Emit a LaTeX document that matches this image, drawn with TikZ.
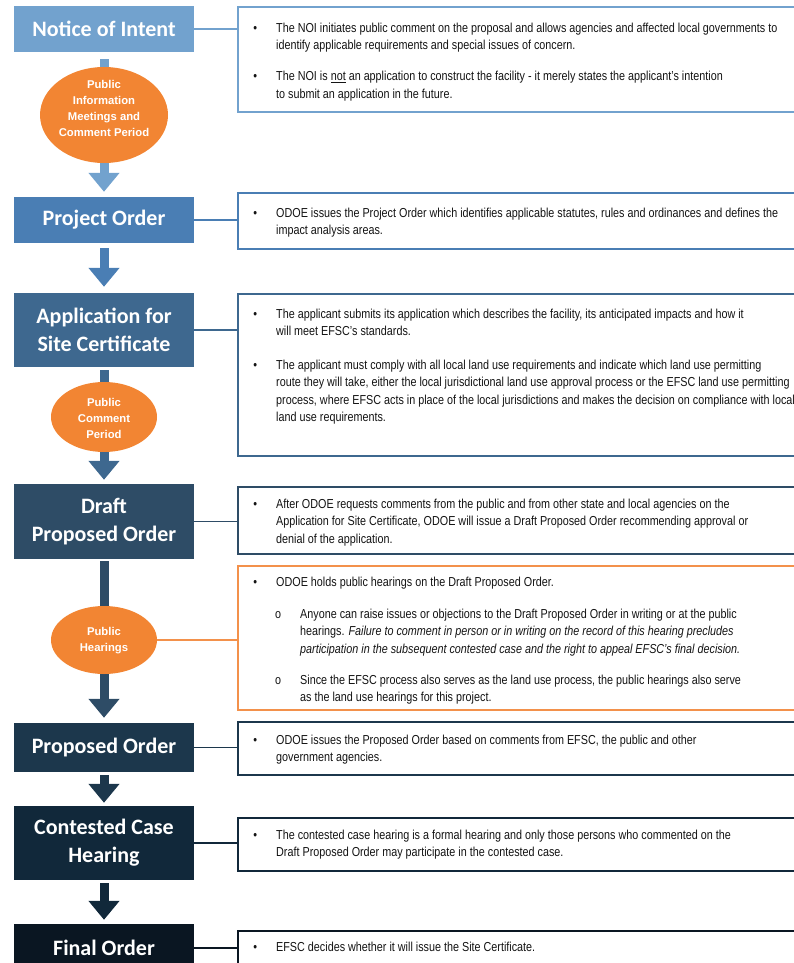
\documentclass[tikz,border=0pt]{standalone}
\usepackage{fontspec}
\newfontfamily\bodyfont[FakeStretch=0.83]{Liberation Sans}
\newfontfamily\titlefont{Carlito}
\newfontfamily\elfont{Liberation Sans}
\usetikzlibrary{shapes.geometric,arrows.meta,backgrounds}
\definecolor{cA}{RGB}{114,162,206}
\definecolor{cB}{RGB}{74,126,180}
\definecolor{cC}{RGB}{62,104,143}
\definecolor{cD}{RGB}{46,76,102}
\definecolor{cE}{RGB}{28,55,76}
\definecolor{cF}{RGB}{17,40,58}
\definecolor{cG}{RGB}{10,22,34}
\definecolor{orng}{RGB}{242,133,51}
\definecolor{orngline}{RGB}{243,145,75}
\definecolor{txt}{RGB}{20,20,20}
\newcommand\mybul{\llap{\textbullet\hspace{19pt}}}
\newcommand\mysubbul{\hspace*{24pt}\llap{o\hspace{19pt}}}
\newcommand\mysubind{\hspace*{24pt}}
\newcommand\mystrut{\rule{0pt}{10pt}}
\tikzset{
  stage/.style={rectangle, minimum width=180pt, text=white, align=center, inner sep=0pt,
    font=\titlefont\bfseries\fontsize{22}{28}\selectfont},
  ell/.style={ellipse, fill=orng, inner sep=0pt},
  elltext/.style={text=white, align=center, inner sep=0pt, font=\elfont\bfseries\fontsize{11.3}{16}\selectfont},
  frame/.style={rectangle, draw, line width=1.6pt, anchor=north west, minimum width=580pt, inner sep=0pt, fill=white},
  body/.style={anchor=north west, align=left, inner sep=0pt, text=txt,
    font=\bodyfont\fontsize{13}{17.5}\selectfont},
  conn/.style={line width=1.3pt},
  stem/.style={line width=9pt},
  barrow/.style={line width=9pt, -{Triangle[width=30pt,length=19pt]}},
}
\begin{document}
\begin{tikzpicture}[x=1pt,y=-1pt]
\useasboundingbox (0,0) rectangle (794,963);
\clip (0,0) rectangle (794,963);
% stage boxes
\node[stage, fill=cA, minimum height=46pt] (noi) at (104,29) {Notice of Intent};
\node[stage, fill=cB, minimum height=46pt] (po) at (104,220) {Project Order};
\node[stage, fill=cC, minimum height=74pt] (app) at (104,330) {Application for\\Site Certificate};
\node[stage, fill=cD, minimum height=75pt] (dpo) at (104,521.5) {Draft\\Proposed Order};
\node[stage, fill=cE, minimum height=49pt] (pro) at (104,747.5) {Proposed Order};
\node[stage, fill=cF, minimum height=74pt] (cch) at (104,843) {Contested Case\\Hearing};
\node[stage, fill=cG, minimum height=48pt] (fin) at (104,948) {Final Order};
% ellipses
\node[ell, minimum width=128pt, minimum height=96pt] (e1) at (104,115) {};
\node[elltext] (e1t) at (104,108) {Public\\Information\\Meetings and\\Comment Period};
\node[ell, minimum width=106pt, minimum height=70pt] (e2) at (104,417) {};
\node[elltext] (e2t) at (104,418) {Public\\Comment\\Period};
\node[ell, minimum width=106pt, minimum height=68pt] (e3) at (104,640) {};
\node[elltext] (e3t) at (104,641) {Public\\Hearings};
% text frames
\node[frame, draw=cA, minimum height=105pt] (t1) at (237,6) {};
\node[frame, draw=cB, minimum height=56pt] (t2) at (237,192) {};
\node[frame, draw=cC, minimum height=162pt] (t3) at (237,293) {};
\node[frame, draw=cD, minimum height=67pt] (t4) at (237,486) {};
\node[frame, draw=orngline, minimum height=144pt] (t5) at (237,565) {};
\node[frame, draw=cE, minimum height=53pt] (t6) at (237,721) {};
\node[frame, draw=cF, minimum height=53pt] (t7) at (237,817) {};
\node[frame, draw=cG, minimum height=70pt] (t8) at (237,930) {};
% texts
\node[body] (b1) at (276,22) {\mybul\mystrut The NOI initiates public comment on the proposal and allows agencies and affected local governments to\\
identify applicable requirements and special issues of concern.\\[13.5pt]
\mybul The NOI is \underline{not} an application to construct the facility - it merely states the applicant’s intention\\
to submit an application in the future.};
\node[body] (b2) at (276,207) {\mybul\mystrut ODOE issues the Project Order which identifies applicable statutes, rules and ordinances and defines the\\
impact analysis areas.};
\node[body] (b3) at (276,308) {\mybul\mystrut The applicant submits its application which describes the facility, its anticipated impacts and how it\\
will meet EFSC’s standards.\\[16pt]
\mybul The applicant must comply with all local land use requirements and indicate which land use permitting\\
route they will take, either the local jurisdictional land use approval process or the EFSC land use permitting\\
process, where EFSC acts in place of the local jurisdictions and makes the decision on compliance with local\\
land use requirements.};
\node[body] (b4) at (276,498) {\mybul\mystrut After ODOE requests comments from the public and from other state and local agencies on the\\
Application for Site Certificate, ODOE will issue a Draft Proposed Order recommending approval or\\
denial of the application.};
\node[body] (b5) at (276,576) {\mybul\mystrut ODOE holds public hearings on the Draft Proposed Order.\\[14.5pt]
\mysubbul Anyone can raise issues or objections to the Draft Proposed Order in writing or at the public\\
\mysubind hearings. \textit{Failure to comment in person or in writing on the record of this hearing precludes}\\
\mysubind\textit{participation in the subsequent contested case and the right to appeal EFSC’s final decision.}\\[13.5pt]
\mysubbul Since the EFSC process also serves as the land use process, the public hearings also serve\\
\mysubind as the land use hearings for this project.};
\node[body] (b6) at (276,734) {\mybul\mystrut ODOE issues the Proposed Order based on comments from EFSC, the public and other\\
government agencies.};
\node[body] (b7) at (276,829) {\mybul\mystrut The contested case hearing is a formal hearing and only those persons who commented on the\\
Draft Proposed Order may participate in the contested case.};
\node[body] (b8) at (276,941) {\mybul\mystrut EFSC decides whether it will issue the Site Certificate.};
% connectors
\draw[conn, cA] (noi.east) -- (noi.east -| t1.west);
\draw[conn, cB] (po.east) -- (po.east -| t2.west);
\draw[conn, cC] (app.east) -- (app.east -| t3.west);
\draw[conn, cD] (dpo.east) -- (dpo.east -| t4.west);
\draw[conn, orngline] (e3.east) -- (e3.east -| t5.west);
\draw[conn, cE] (pro.east) -- (pro.east -| t6.west);
\draw[conn, cF] (cch.east) -- (cch.east -| t7.west);
\draw[conn, cG] (fin.east) -- (fin.east -| t8.west);
% block arrows
\begin{scope}[on background layer]
\draw[stem, cA, shorten <=7pt] (noi.south) -- (e1.center);
\draw[barrow, cA, shorten >=5pt] (e1.center) -- (po.north);
\draw[barrow, cB, shorten <=5pt, shorten >=6pt] (po.south) -- (app.north);
\draw[stem, cC, shorten <=3pt] (app.south) -- (e2.center);
\draw[barrow, cC, shorten >=4pt] (e2.center) -- (dpo.north);
\draw[stem, cD, shorten <=2pt] (dpo.south) -- (e3.center);
\draw[barrow, cD, shorten >=5pt] (e3.center) -- (pro.north);
\draw[barrow, cE, shorten <=3pt, shorten >=3pt] (pro.south) -- (cch.north);
\draw[barrow, cF, shorten <=3pt, shorten >=4pt] (cch.south) -- (fin.north);
\end{scope}
\end{tikzpicture}
\end{document}
